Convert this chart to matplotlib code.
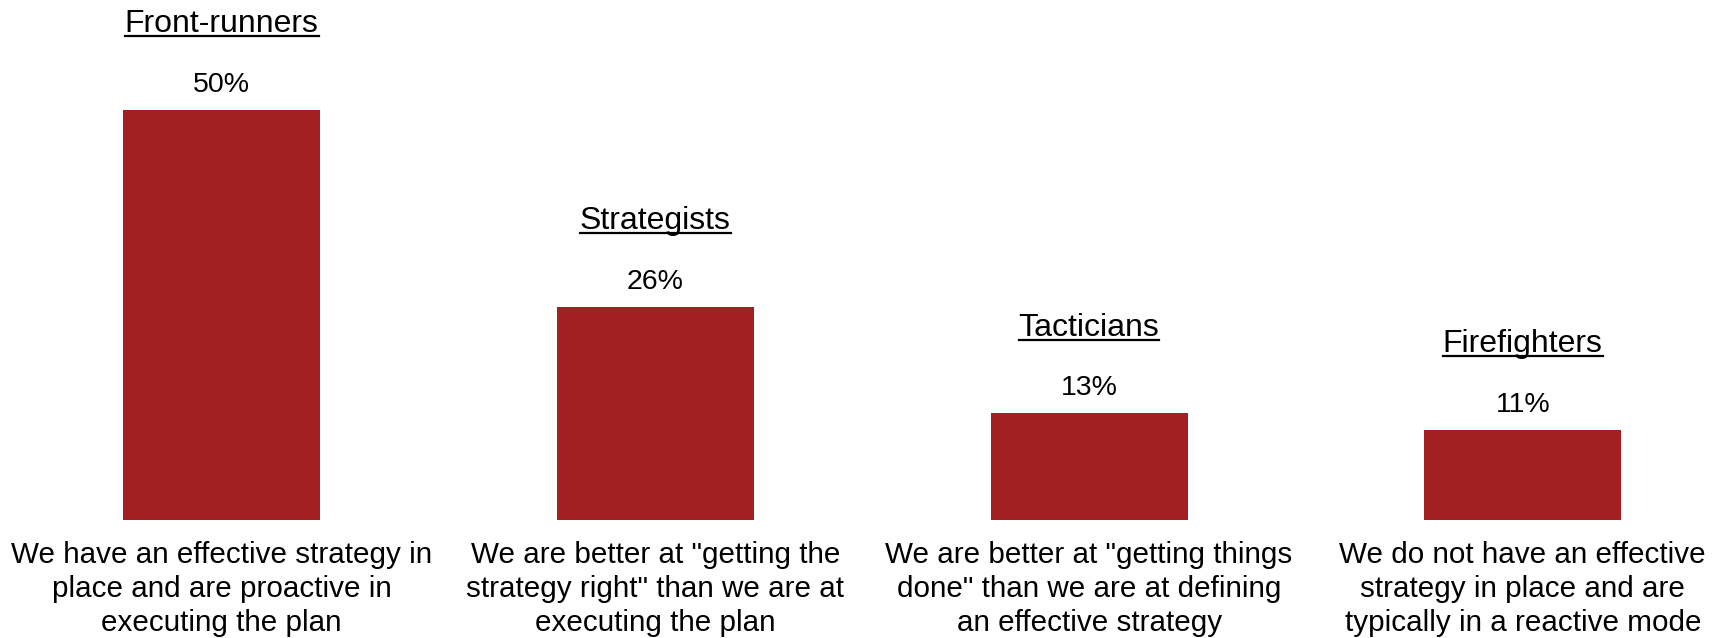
import matplotlib
matplotlib.use("Agg")
import matplotlib.pyplot as plt
from matplotlib.lines import Line2D

plt.rcParams['font.family'] = ['Liberation Sans', 'DejaVu Sans']

groups = ["Front-runners", "Strategists", "Tacticians", "Firefighters"]
shares = [50, 26, 13, 11]
descriptions = [
    "We have an effective strategy in\nplace and are proactive in\nexecuting the plan",
    "We are better at \"getting the\nstrategy right\" than we are at\nexecuting the plan",
    "We are better at \"getting things\ndone\" than we are at defining\nan effective strategy",
    "We do not have an effective\nstrategy in place and are\ntypically in a reactive mode",
]

W, H, DPI = 1721, 638, 100
fig = plt.figure(figsize=(W / DPI, H / DPI), dpi=DPI)
ax = fig.add_axes([0, 118 / H, 1, 1 - 118 / H])
ax.set_xlim(-0.511, 3.457)
ax.set_ylim(0, 520 / 8.2)
ax.axis("off")

xs = range(len(groups))
ax.bar(xs, shares, width=0.454, color="#A21F22")

titles = []
for x, v, g, d in zip(xs, shares, groups, descriptions):
    ax.annotate(f"{v}%", (x, v), xytext=(0, 13), textcoords="offset points",
                ha="center", va="baseline", fontsize=20.5)
    t = ax.annotate(g, (x, v), xytext=(0, 56), textcoords="offset points",
                    ha="center", va="baseline", fontsize=23)
    titles.append((t, x, v))
    ax.annotate(d, (x, 0), xytext=(0, -15), textcoords="offset points",
                ha="center", va="top", fontsize=21.3, linespacing=1.27)

# underline the group names
fig.canvas.draw()
renderer = fig.canvas.get_renderer()
inv = fig.transFigure.inverted()
for t, x, v in titles:
    bb = t.get_window_extent(renderer)
    base = ax.transData.transform((x, v))[1] + 56 * DPI / 72
    y = base - 4
    (x0, y0), (x1, _) = inv.transform([(bb.x0, y), (bb.x1, y)])
    fig.add_artist(Line2D([x0, x1], [y0, y0], color="black", lw=1.6,
                          transform=fig.transFigure))

fig.savefig("out.png", dpi=DPI)
